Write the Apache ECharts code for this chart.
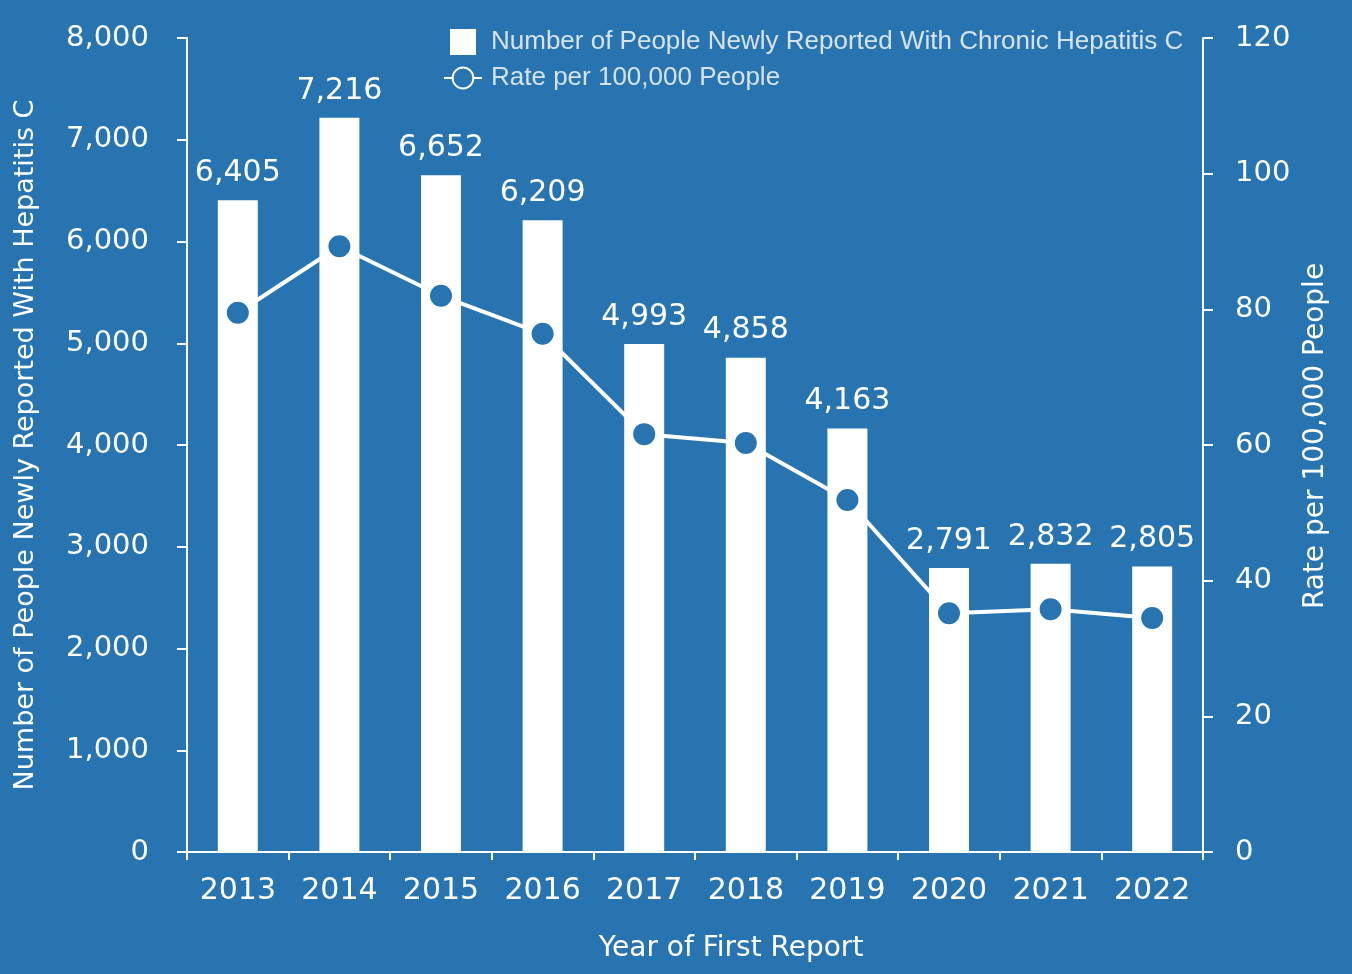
<!DOCTYPE html>
<html><head><meta charset="utf-8">
<script src="https://cdn.jsdelivr.net/npm/echarts@6/dist/echarts.min.js"></script>
<style>html,body{margin:0;padding:0;background:#2774b0;}#c{width:1352px;height:974px;}</style>
</head><body><div id="c"></div>
<script>
var years = ['2013','2014','2015','2016','2017','2018','2019','2020','2021','2022'];
var counts = [6405,7216,6652,6209,4993,4858,4163,2791,2832,2805];
var rates = [79.5,89.3,82.0,76.4,61.6,60.3,51.9,35.2,35.8,34.5];
var barName = 'Number of People Newly Reported With Chronic Hepatitis C';
var lineName = 'Rate per 100,000 People';
var bg = '#2774b0';
var font = 'DejaVu Sans';
function fmt(v){return String(v).replace(/\B(?=(\d{3})+(?!\d))/g, ',');}
var chart = echarts.init(document.getElementById('c'));
chart.setOption({
  backgroundColor: bg,
  animation: false,
  textStyle: {fontFamily: font, color: '#fff'},
  legend: {
    orient: 'vertical', left: 438, top: 24, itemGap: 10, itemWidth: 38, itemHeight: 26,
    textStyle: {color: '#d6e3ef', fontFamily: 'Liberation Sans', fontSize: 26, padding: [0,0,0,4]},
    data: [{name: barName, icon: 'path://M0,0H10V10H0Z'}, {name: lineName}]
  },
  grid: {left: 187, right: 149, top: 38, bottom: 122},
  xAxis: {
    type: 'category', data: years,
    name: 'Year of First Report', nameLocation: 'middle', nameGap: 83,
    nameTextStyle: {color: '#fff', fontSize: 28, fontFamily: font, padding: [0,0,0,72]},
    axisLine: {lineStyle: {color: '#fff', width: 2}},
    axisTick: {show: true, length: 8, lineStyle: {color: '#fff', width: 2}},
    axisLabel: {color: '#fff', fontSize: 30, margin: 24, fontFamily: font}
  },
  yAxis: [{
    type: 'value', min: 0, max: 8000, interval: 1000,
    name: 'Number of People Newly Reported With Hepatitis C', nameLocation: 'middle', nameGap: 148,
    nameTextStyle: {color: '#fff', fontSize: 27, fontFamily: font},
    axisLine: {show: true, lineStyle: {color: '#fff', width: 2}},
    axisTick: {show: true, length: 10, lineStyle: {color: '#fff', width: 2}},
    axisLabel: {color: '#fff', fontSize: 29, margin: 38, fontFamily: font, formatter: fmt},
    splitLine: {show: false}
  }, {
    type: 'value', min: 0, max: 120, interval: 20, position: 'right',
    name: 'Rate per 100,000 People', nameLocation: 'middle', nameGap: 96,
    nameTextStyle: {color: '#fff', fontSize: 28, fontFamily: font, padding: [0,0,0,18]},
    axisLine: {show: true, lineStyle: {color: '#fff', width: 2}},
    axisTick: {show: true, length: 10, lineStyle: {color: '#fff', width: 2}},
    axisLabel: {color: '#fff', fontSize: 29, margin: 32, fontFamily: font},
    splitLine: {show: false}
  }],
  series: [{
    name: barName, type: 'bar', data: counts, barWidth: 40,
    itemStyle: {color: '#fff'},
    label: {show: true, position: 'top', distance: 12, color: '#fff', fontSize: 30, fontFamily: font,
      formatter: function(p){return fmt(p.value);}}
  }, {
    name: lineName, type: 'line', yAxisIndex: 1, data: rates,
    symbol: 'circle', symbolSize: 25,
    lineStyle: {color: '#fff', width: 4},
    itemStyle: {color: bg, borderColor: '#fff', borderWidth: 3}
  }]
});
</script></body></html>
